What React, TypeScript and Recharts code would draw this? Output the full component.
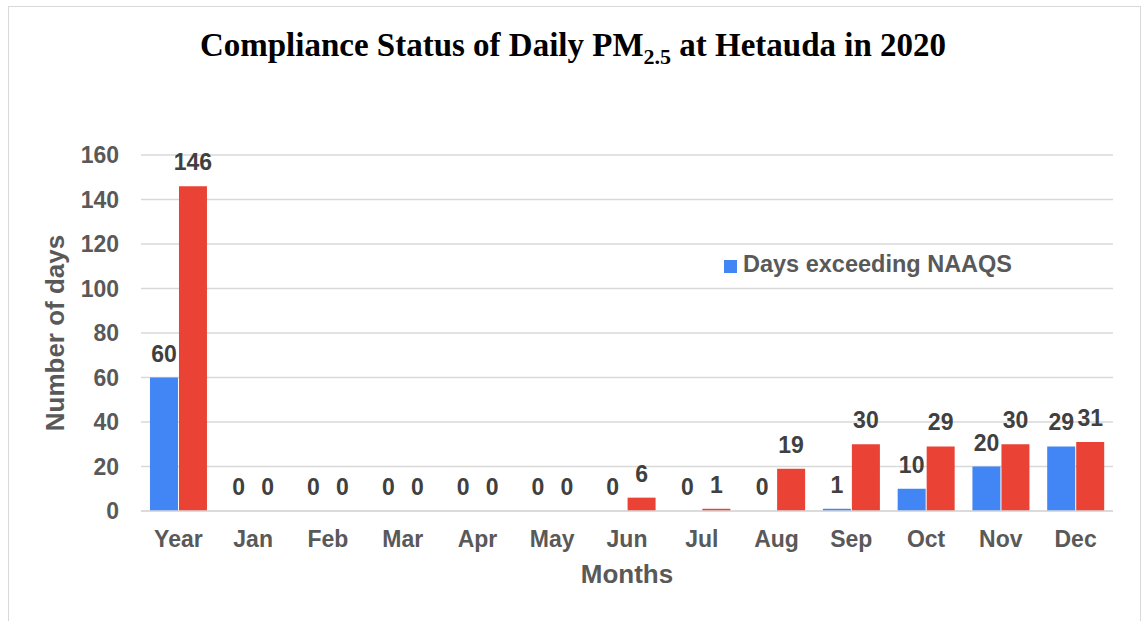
import { BarChart, Bar, XAxis, YAxis, CartesianGrid, Legend, LabelList, Label } from "recharts";

const months = ["Year", "Jan", "Feb", "Mar", "Apr", "May", "Jun", "Jul", "Aug", "Sep", "Oct", "Nov", "Dec"];
const daysExceedingNaaqs = [60, 0, 0, 0, 0, 0, 0, 0, 0, 1, 10, 20, 29];
const daysExceedingWho = [146, 0, 0, 0, 0, 0, 6, 1, 19, 30, 29, 30, 31];
const yTicks = [0, 20, 40, 60, 80, 100, 120, 140, 160];

const data = months.map((m, i) => ({
  month: m,
  naaqs: daysExceedingNaaqs[i],
  who: daysExceedingWho[i],
}));

const FONT = "'Liberation Sans', Arial, sans-serif";
const BLUE = "#4285F4";
const RED = "#EA4335";

function LegendBox() {
  return (
    <div style={{ display: "flex", alignItems: "center", fontFamily: FONT, fontWeight: 700, fontSize: 23.5, lineHeight: 1, color: "#595959", whiteSpace: "nowrap" }}>
      <span style={{ width: 13, height: 13, background: BLUE, marginRight: 6, marginTop: 3 }} />
      <span>Days exceeding NAAQS</span>
    </div>
  );
}

export default function App() {
  return (
    <div style={{ position: "absolute", left: 0, top: 0, width: 1143, height: 621, overflow: "hidden", background: "#fff" }}>
      <div style={{ position: "absolute", left: 8, top: 6, width: 1133, height: 700, border: "1px solid #d9d9d9", boxSizing: "border-box" }} />
      <div
        style={{
          position: "absolute",
          left: 0,
          top: 29,
          width: 1146,
          textAlign: "center",
          fontFamily: "'Liberation Serif', 'Times New Roman', serif",
          fontWeight: 700,
          fontSize: 33,
          lineHeight: 1,
          color: "#000",
          whiteSpace: "nowrap",
        }}
      >
        Compliance Status of Daily PM
        <span style={{ fontSize: 22, position: "relative", top: 8 }}>2.5</span> at Hetauda in 2020
      </div>
      <div style={{ position: "absolute", left: 0, top: 0 }}>
        <BarChart
          width={1143}
          height={621}
          data={data}
          margin={{ top: 155, right: 30, bottom: 0, left: 0 }}
          barCategoryGap="12%"
          barGap={1}
        >
          <CartesianGrid vertical={false} stroke="#d9d9d9" strokeWidth={1.5} />
          <XAxis
            dataKey="month"
            height={110}
            tickLine={false}
            tickSize={0}
            tickMargin={20}
            axisLine={{ stroke: "#d9d9d9", strokeWidth: 1.5 }}
            tick={{ fontFamily: FONT, fontWeight: 700, fontSize: 23, fill: "#595959" }}
            interval={0}
          >
            <Label
              content={(props: any) => {
                const vb = props.viewBox;
                return (
                  <text
                    x={vb.x + vb.width / 2}
                    y={vb.y + 72}
                    textAnchor="middle"
                    fontFamily={FONT}
                    fontWeight={700}
                    fontSize={26}
                    fill="#595959"
                  >
                    Months
                  </text>
                );
              }}
            />
          </XAxis>
          <YAxis
            width={141}
            domain={[0, 160]}
            ticks={yTicks}
            tickLine={false}
            tickSize={0}
            tickMargin={22}
            axisLine={false}
            tick={{ fontFamily: FONT, fontWeight: 700, fontSize: 23, fill: "#595959" }}
          >
            <Label
              content={(props: any) => {
                const vb = props.viewBox;
                const x = vb.x + 64;
                const y = vb.y + vb.height / 2;
                return (
                  <text
                    x={x}
                    y={y}
                    transform={`rotate(-90 ${x} ${y})`}
                    textAnchor="middle"
                    fontFamily={FONT}
                    fontWeight={700}
                    fontSize={26}
                    fill="#595959"
                  >
                    Number of days
                  </text>
                );
              }}
            />
          </YAxis>
          <Legend
            layout="horizontal"
            verticalAlign="middle"
            align="center"
            content={() => <LegendBox />}
            wrapperStyle={{ left: 724, top: 253, width: "auto", height: "auto" }}
          />
          <Bar dataKey="naaqs" name="Days exceeding NAAQS" fill={BLUE} minPointSize={0.01} isAnimationActive={false}>
            <LabelList dataKey="naaqs" position="top" offset={16} fontFamily={FONT} fontWeight={700} fontSize={23} fill="#404040" />
          </Bar>
          <Bar dataKey="who" name="Days exceeding WHO guideline" fill={RED} minPointSize={0.01} isAnimationActive={false}>
            <LabelList dataKey="who" position="top" offset={16} fontFamily={FONT} fontWeight={700} fontSize={23} fill="#404040" />
          </Bar>
        </BarChart>
      </div>
    </div>
  );
}
